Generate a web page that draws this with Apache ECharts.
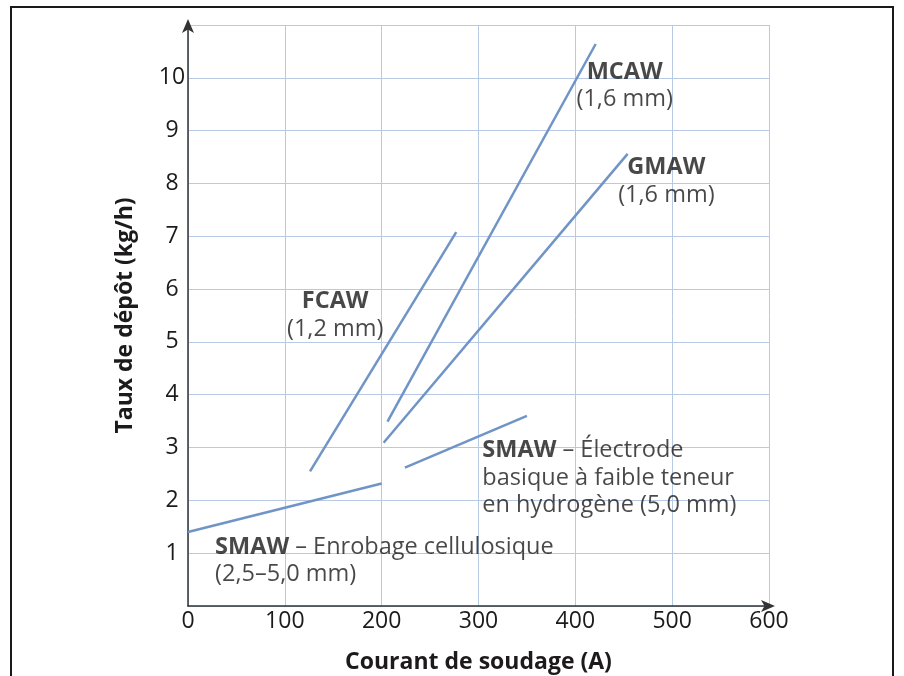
<!DOCTYPE html>
<html>
<head>
<meta charset="utf-8">
<script src="https://cdn.jsdelivr.net/npm/echarts@6/dist/echarts.min.js"></script>
<style>
html,body{margin:0;padding:0;background:#fff;}
#c{width:904px;height:676px;}
</style>
</head>
<body>
<div id="c"></div>
<script>
// ---- Data ----
const xTicks = [0, 100, 200, 300, 400, 500, 600];
const yTicks = [1, 2, 3, 4, 5, 6, 7, 8, 9, 10];
const xTitle = 'Courant de soudage (A)';
const yTitle = 'Taux de dépôt (kg/h)';

const smawCellulose = [[0, 1.4], [200, 2.32]];
const smawBasique = [[224, 2.62], [350, 3.6]];
const fcaw = [[126, 2.55], [277, 7.08]];
const mcaw = [[206, 3.49], [421, 10.64]];
const gmaw = [[202, 3.09], [454, 8.56]];

// annotations: [x, y, text, align]
const notes = [
  [451, 9.85, '{b|MCAW}\n(1,6 mm)', 'center'],
  [494, 8.04, '{b|GMAW}\n(1,6 mm)', 'center'],
  [152, 5.5, '{b|FCAW}\n(1,2 mm)', 'center'],
  [304, 2.42, '{b|SMAW} – Électrode\nbasique à faible teneur\nen hydrogène (5,0 mm)', 'left'],
  [28, 0.86, '{b|SMAW} – Enrobage cellulosique\n(2,5–5,0 mm)', 'left']
];

const FONT = 'Open Sans';
const FS = 23;
const FSN = 23.5;
const TXT = '#1c1a1b';
const LINE = '#7094c6';
const GRIDC = '#b7c9e4';

const chart = echarts.init(document.getElementById('c'), null, {renderer: 'canvas'});

function lineSeries(name, data) {
  return {
    name: name, type: 'line', data: data, showSymbol: false, symbol: 'none',
    lineStyle: {color: LINE, width: 2.5}, silent: true, z: 3
  };
}

chart.setOption({
  animation: false,
  backgroundColor: '#fff',
  textStyle: {fontFamily: FONT, color: TXT},
  graphic: [{
    type: 'rect', shape: {x: 11, y: 7, width: 882, height: 720},
    style: {fill: 'none', stroke: '#1a1a1a', lineWidth: 2}, z: -10
  }],
  grid: {left: 188, right: 135, top: 25, bottom: 70, containLabel: false, outerBoundsMode: 'none'},
  xAxis: {
    type: 'value', min: 0, max: 600, interval: 100,
    name: xTitle, nameLocation: 'middle', nameGap: 45,
    nameTextStyle: {fontFamily: FONT, fontWeight: 'bold', fontSize: FS, color: TXT},
    axisLine: {show: true, lineStyle: {color: '#333', width: 1.5}, symbol: ['none', 'arrow'], symbolSize: [9, 14], symbolOffset: [0, 6]},
    axisTick: {show: false},
    axisLabel: {fontFamily: FONT, fontSize: FS, color: TXT, margin: 4,
      formatter: v => xTicks.includes(v) ? String(v) : ''},
    splitLine: {show: true, lineStyle: {color: GRIDC, width: 1}}
  },
  yAxis: {
    type: 'value', min: 0, max: 11, interval: 1,
    name: yTitle, nameLocation: 'middle', nameGap: 51, nameRotate: 90,
    nameTextStyle: {fontFamily: FONT, fontWeight: 'bold', fontSize: FS, color: TXT},
    axisLine: {show: true, lineStyle: {color: '#333', width: 1.5}, symbol: ['none', 'arrow'], symbolSize: [9, 14], symbolOffset: [0, 6]},
    axisTick: {show: false},
    axisLabel: {fontFamily: FONT, fontSize: FS, color: TXT, margin: 16, align: 'center',
      formatter: v => yTicks.includes(v) ? String(v) : ''},
    splitLine: {show: true, lineStyle: {color: GRIDC, width: 1}}
  },
  series: [
    lineSeries('SMAW cellulosique', smawCellulose),
    lineSeries('SMAW basique', smawBasique),
    lineSeries('FCAW', fcaw),
    lineSeries('MCAW', mcaw),
    lineSeries('GMAW', gmaw),
    {
      type: 'scatter', symbolSize: 0, silent: true, z: 5,
      data: notes.map(n => ({
        value: [n[0], n[1]],
        label: {
          show: true, position: 'inside', formatter: n[2], align: n[3], verticalAlign: 'middle',
          fontFamily: FONT, fontSize: FSN, lineHeight: 27.5, color: TXT,
          rich: {b: {fontFamily: FONT, fontWeight: 'bold', fontSize: FSN, lineHeight: 27.5, color: TXT}}
        }
      }))
    }
  ]
});
</script>
</body>
</html>
